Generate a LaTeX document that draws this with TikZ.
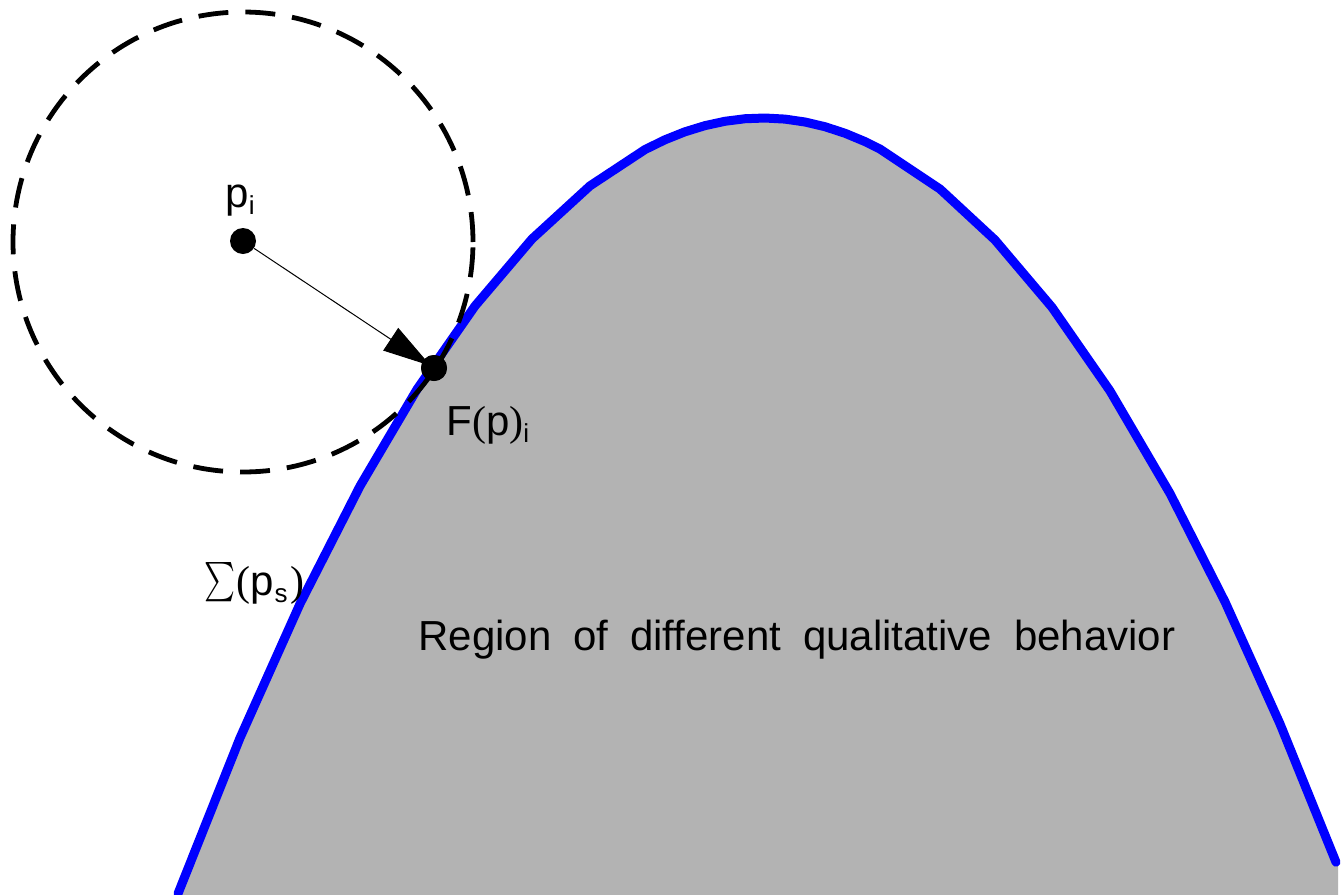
\documentclass[tikz,border=0pt]{standalone}
\usepackage{fontspec}
\usepackage{graphicx}
\setmainfont{Liberation Sans}
\newfontfamily\serifparen{Liberation Serif}
\usetikzlibrary{arrows.meta}
\definecolor{regiongray}{RGB}{179,179,179}
\definecolor{curveblue}{RGB}{0,0,255}
\newcommand{\mysub}[1]{\raisebox{-3.5pt}{\fontsize{13}{15}\selectfont #1}}
\newcommand{\mylp}{{\serifparen(}}
\newcommand{\myrp}{{\serifparen)}}
\begin{document}
\begin{tikzpicture}[x=0.5pt,y=-0.5pt,
  font=\fontsize{21}{25}\selectfont,
  boundary/.style={draw=curveblue,line width=4.5pt,line cap=round,line join=round},
  region/.style={fill=regiongray},
  ball/.style={draw=black,line width=2.4pt,dash pattern=on 15pt off 8.5pt},
  dot/.style={circle,fill=black,inner sep=0pt,minimum size=13pt},
  lbl/.style={inner sep=0pt,anchor=base west},
  proj/.style={line width=0.5pt,-{Triangle[length=24pt,width=13.5pt]},shorten >=2pt},
  curvepts/.style={samples at={178,240,300,360,417,475,532,590,645,665,...,865,880,940,995,1052,1110,1170,1225,1280,1336}}]
\useasboundingbox (0,0) rectangle (1341,895);
% region of different qualitative behavior
\fill[region] plot[curvepts] (\x,{118+(0.0476*(\x-763))^2})
  -- (1338,862) -- (1338,895) -- (178,895) -- cycle;
\draw[boundary] plot[curvepts] (\x,{118+(0.0476*(\x-763))^2});
% neighbourhood
\draw[ball] (243,242) circle[radius=115pt];
% points
\node[dot] (pi) at (243,241) {};
\node[dot] (F) at (434,368) {};
\draw[proj] (pi) -- (F.center);
\node[dot] at (F.center) {};
% labels
\node[lbl] (lblpi) at (225,207) {p\mysub{i}};
\node[lbl] (lblF) at (446,435) {F\mylp p\myrp\mysub{i}};
\node[lbl] (lblsigma) at (204,595) {\raisebox{-3.5pt}{\resizebox{15.5pt}{20pt}{$\textstyle\sum$}}\kern0.5pt\mylp p\kern0.5pt\mysub{s}\kern1.5pt\myrp};
\node[lbl] (lblregion) at (418,650) {\makebox[378.5pt][s]{Region of different qualitative behavior}};
\end{tikzpicture}
\end{document}
